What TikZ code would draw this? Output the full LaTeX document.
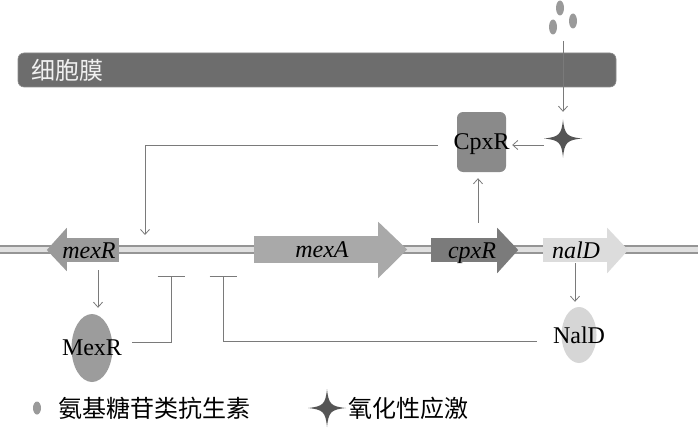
\documentclass[tikz,border=0pt]{standalone}
\usepackage{fontspec}
\setmainfont{Liberation Serif}
\newfontfamily\cjk{Noto Sans CJK SC}
\usetikzlibrary{arrows.meta,shapes.geometric}
\definecolor{membgray}{HTML}{6D6D6D}
\definecolor{membedge}{HTML}{8C8C8C}
\definecolor{cpxgray}{HTML}{8A8A8A}
\definecolor{mexRgray}{HTML}{9A9A9A}
\definecolor{mexAgray}{HTML}{A9A9A9}
\definecolor{cpxRgray}{HTML}{7B7B7B}
\definecolor{nalDgray}{HTML}{DCDCDC}
\definecolor{MexRgray}{HTML}{9C9C9C}
\definecolor{NalDgray}{HTML}{D6D6D6}
\definecolor{druggray}{HTML}{9A9A9A}
\definecolor{stargray}{HTML}{555555}
\definecolor{linegray}{HTML}{7A7A7A}
\definecolor{dnagray}{HTML}{959595}
\definecolor{dnalight}{HTML}{E0E0E0}
\tikzset{
  conn/.style={draw=linegray, line width=0.8pt},
  act/.style={conn, -{Straight Barb[length=5pt,width=9pt]}},
  inh/.style={conn, -{Bar[width=27pt]}},
  genebody/.style={inner sep=0pt, minimum height=24pt},
  genetxt/.style={inner sep=0pt, text height=16pt, text depth=0pt,
    font=\itshape\fontsize{24}{24}\selectfont},
  prot/.style={ellipse, inner sep=0pt, label={[font=\fontsize{24}{24}\selectfont]center:#1}},
  drug/.style={ellipse, inner sep=0pt, fill=druggray, minimum width=8pt, minimum height=15pt},
  bigtext/.style={font=\cjk\fontsize{24}{24}\selectfont},
}
\begin{document}
\begin{tikzpicture}[x=1pt,y=-1pt]
  \useasboundingbox (0,0) rectangle (700,433);

  % cell membrane
  \node[fill=membgray, draw=membedge, line width=0.6pt, rounded corners=6pt,
        minimum width=598pt, minimum height=34pt] (memb) at (317,70) {};
  \node[bigtext, text=white!94!black, anchor=west] (membtxt) at ([xshift=10pt]memb.west) {细胞膜};

  % antibiotic
  \node[drug] (ag1) at (560,8) {};
  \node[drug] (ag2) at (553,27) {};
  \node[drug] (ag3) at (573,21) {};
  \coordinate (sig) at (563,41);

  % oxidative stress
  \node[inner sep=0pt, minimum width=38pt, minimum height=37pt] (star) at (563,138.5) {};
  \begin{scope}[shift={(563,138.5)}]
    \fill[stargray] (0,-19) .. controls (1.5,-4) and (4,-1.5) .. (19,0)
      .. controls (4,1.5) and (1.5,4) .. (0,19)
      .. controls (-1.5,4) and (-4,1.5) .. (-19,0)
      .. controls (-4,-1.5) and (-1.5,-4) .. cycle;
  \end{scope}

  % CpxR protein
  \node[fill=cpxgray, rounded corners=6pt, inner sep=0pt,
        minimum width=49pt, minimum height=60pt,
        label={[font=\fontsize{24}{24}\selectfont, yshift=-2pt]center:CpxR}] (cpx) at (481.5,142) {};

  % DNA
  \draw[draw=dnagray, line width=2.2pt, double=dnalight, double distance=4.2pt] (0,249.5) -- (698,249.5);

  % genes
  \node[genebody, fill=mexRgray, minimum width=52pt] (mexRg) at (93,250) {};
  \fill[mexRgray] ([yshift=10pt]mexRg.north west) -- ([xshift=-20pt]mexRg.west)
     -- ([yshift=-9pt]mexRg.south west) -- cycle;
  \node[genetxt] (mexRlab) at ([xshift=-4pt]mexRg.center) {mexR};

  \node[genebody, fill=mexAgray, minimum width=124pt, minimum height=27pt] (mexA) at (316,249.5) {};
  \fill[mexAgray] ([yshift=14pt]mexA.north east) -- ([xshift=29pt]mexA.east)
     -- ([yshift=-15pt]mexA.south east) -- cycle;
  \node[genetxt] (mexAlab) at ([xshift=6pt]mexA.center) {mexA};

  \node[genebody, fill=cpxRgray, minimum width=66pt] (cpxRg) at (464,250) {};
  \fill[cpxRgray] ([yshift=10pt]cpxRg.north east) -- ([xshift=21pt]cpxRg.east)
     -- ([yshift=-11pt]cpxRg.south east) -- cycle;
  \node[genetxt] (cpxRlab) at ([xshift=8pt]cpxRg.center) {cpxR};

  \node[genebody, fill=nalDgray, minimum width=64pt] (nalDg) at (575,250) {};
  \fill[nalDgray] ([yshift=10pt]nalDg.north east) -- ([xshift=21pt]nalDg.east)
     -- ([yshift=-11pt]nalDg.south east) -- cycle;
  \node[genetxt] (nalDlab) at ([xshift=1pt]nalDg.center) {nalD};

  % proteins
  \node[prot=MexR, fill=MexRgray, minimum width=41pt, minimum height=68pt] (MexRp) at (92,348) {};
  \node[prot=NalD, fill=NalDgray, minimum width=35pt, minimum height=56pt] (NalDp) at (579,335) {};

  % regulation
  \coordinate (prom) at (145,235);
  \coordinate (mexRinh) at (171,276);
  \coordinate (nalDinh) at (223,276);
  \coordinate (mexRdown) at ([xshift=5pt,yshift=-8pt]mexRg.south);
  \coordinate (cpxup) at ([xshift=14pt,yshift=15pt]cpxRg.north);

  \draw[act, shorten >=8pt] (sig) -- (star.north);
  \draw[act] ([yshift=-6.5pt]star.west) -- ([xshift=6pt,yshift=-3pt]cpx.east);
  \draw[act] ([xshift=-19pt,yshift=-3pt]cpx.west) -| (prom);
  \draw[act, shorten >=6pt] (cpxup) -- (cpxup |- cpx.south);
  \draw[act, shorten >=6pt] (mexRdown) -- (mexRdown |- MexRp.north);
  \draw[act, shorten >=5pt] ([yshift=-1pt]nalDg.south) -- (nalDg.south |- NalDp.north);
  \draw[inh] ([xshift=19.5pt,yshift=6pt]MexRp.east) -| (mexRinh);
  \draw[inh] ([xshift=-24.5pt,yshift=-6pt]NalDp.west) -| (nalDinh);

  % legend
  \node[drug, minimum height=13pt] (legag) at (37,408) {};
  \node[bigtext, anchor=west] (legagtxt) at (55,408) {氨基糖苷类抗生素};
  \begin{scope}[shift={(327,408)}]
    \fill[stargray] (0,-19) .. controls (1.5,-4) and (4,-1.5) .. (19,0)
      .. controls (4,1.5) and (1.5,4) .. (0,19)
      .. controls (-1.5,4) and (-4,1.5) .. (-19,0)
      .. controls (-4,-1.5) and (-1.5,-4) .. cycle;
  \end{scope}
  \node[bigtext, anchor=west] (legstresstxt) at (345,408) {氧化性应激};
\end{tikzpicture}
\end{document}
